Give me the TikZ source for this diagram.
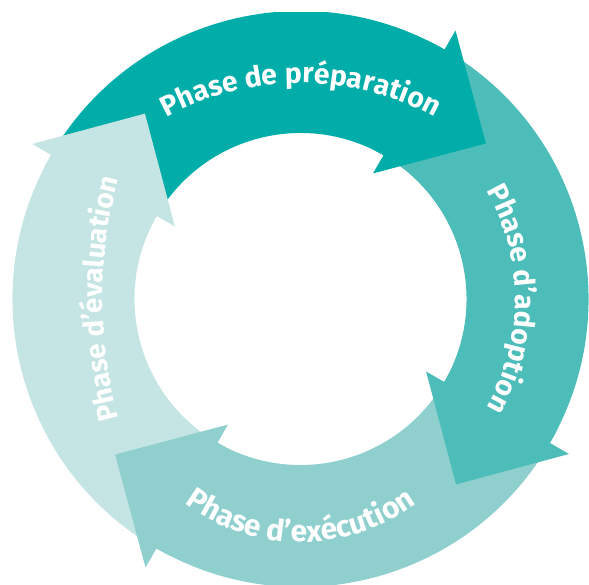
\documentclass[tikz,border=0pt]{standalone}
\usepackage{fontspec}
\setmainfont{Fira Sans}
\usetikzlibrary{decorations.text}

\definecolor{prepcol}{RGB}{0,173,168}
\definecolor{adopcol}{RGB}{77,189,186}
\definecolor{execcol}{RGB}{143,208,207}
\definecolor{evalcol}{RGB}{197,229,228}

% ring radii and arrow-head geometry
\def\rin{166}
\def\rout{288}
\def\barbout{310}
\def\barbin{145}
\def\tipr{242}

% annular body of one phase, from angle #2 clockwise to angle #3
\newcommand\phasebody[3]{%
  \fill[#1] (#2:\rout) arc[start angle=#2, end angle=#3, radius=\rout]
    -- (#3:\rin) arc[start angle=#3, end angle=#2, radius=\rin] -- cycle;}
% arrow head of one phase whose barbs sit on angle #2
\newcommand\phasehead[2]{%
  \fill[#1] ({#2+3}:\rout) arc[start angle={#2+3}, end angle=#2, radius=\rout]
    -- (#2:\barbout) -- ({#2-20}:\tipr) -- (#2:\barbin) -- (#2:\rin)
    arc[start angle=#2, end angle={#2+3}, radius=\rin] -- cycle;}

\tikzset{
  phaselabel/.style 2 args={decorate, decoration={text along path, text align=center,
      text={|\fontsize{#1}{#1}\bfseries\color{white}|#2}}}
}

\begin{document}
\begin{tikzpicture}[x=1bp,y=1bp]
\useasboundingbox (0,0) rectangle (589,585);
\begin{scope}
\clip (0,0) rectangle (589,572.5);
\begin{scope}[shift={(300.5,286)}]
  % bodies
  \phasebody{prepcol}{150}{60}
  \phasebody{adopcol}{60}{-30}
  \phasebody{execcol}{-30}{-120}
  \phasebody{evalcol}{-120}{-210}
  % heads
  \phasehead{prepcol}{60}
  \phasehead{adopcol}{-30}
  \phasehead{execcol}{-120}
  \phasehead{evalcol}{150}
  % labels, each set on its own arc
  \path[phaselabel={28.5}{Phase de préparation}, shift={(0,-63)}]
    (135:279) arc[start angle=135, end angle=45, radius=279];
  \path[phaselabel={28.5}{Phase d’adoption}]
    (60:215) arc[start angle=60, end angle=-60, radius=215];
  \path[phaselabel={30}{Phase d’exécution}, shift={(0,-48)}]
    (-160:195) arc[start angle=-160, end angle=-20, radius=195];
  \path[phaselabel={28}{Phase d’évaluation}, shift={(252,0)}]
    (205:450) arc[start angle=205, end angle=155, radius=450];
\end{scope}
\end{scope}
\end{tikzpicture}
\end{document}
